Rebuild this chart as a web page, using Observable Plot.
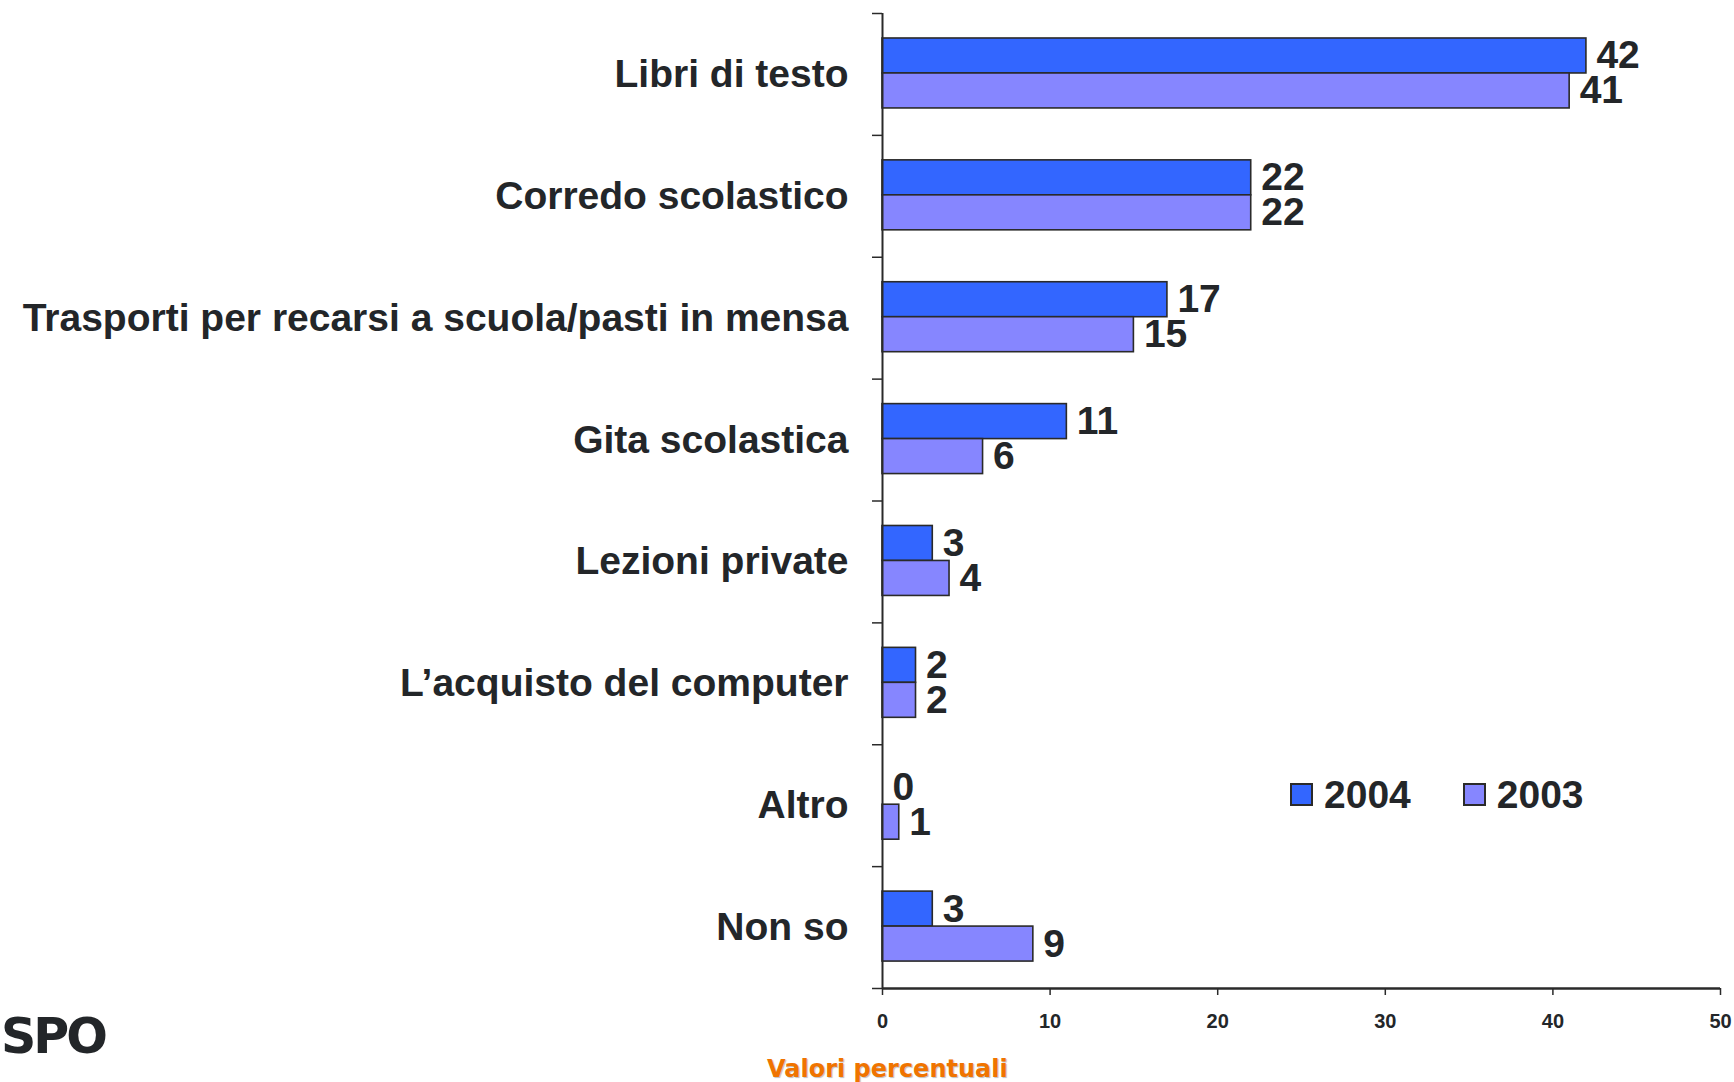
<!DOCTYPE html>
<html>
<head>
<meta charset="utf-8">
<script src="https://cdn.jsdelivr.net/npm/d3@7"></script>
<script src="https://cdn.jsdelivr.net/npm/@observablehq/plot@0.6"></script>
<style>
  html, body { margin: 0; padding: 0; background: #fff; }
  body { width: 1734px; height: 1082px; position: relative; overflow: hidden;
         font-family: "Liberation Sans", Arial, sans-serif; color: #232629; }
  #chart { position: absolute; left: 0; top: 0; }
  #legend { position: absolute; left: 1290px; top: 775px; display: flex; align-items: center;
            font-size: 39px; font-weight: bold; line-height: 1; }
  #legend .item { display: flex; align-items: center; margin-right: 52px; }
  #legend .sw { width: 19px; height: 19px; border: 2px solid #2a2a2a; margin-right: 11px; }
  #xlabel { position: absolute; left: 767px; top: 1057px; font-family: "DejaVu Sans", sans-serif;
            font-weight: bold; font-size: 24px; line-height: 1; color: #F07400;
            text-shadow: 1px 1px 1px rgba(0,0,0,0.25); white-space: nowrap; }
  #logo { position: absolute; left: 1px; top: 1012px; font-family: "DejaVu Sans", sans-serif;
          font-weight: bold; font-size: 49px; line-height: 1; color: #232629; letter-spacing: -3px; }
</style>
</head>
<body>
<div id="chart"></div>
<div id="legend"></div>
<div id="xlabel">Valori percentuali</div>
<div id="logo">SPO</div>
<script>
const categories = [
  "Libri di testo",
  "Corredo scolastico",
  "Trasporti per recarsi a scuola/pasti in mensa",
  "Gita scolastica",
  "Lezioni private",
  "L\u2019acquisto del computer",
  "Altro",
  "Non so"
];
const series = ["2004", "2003"];
const values2004 = [42, 22, 17, 11, 3, 2, 0, 3];
const values2003 = [41, 22, 15, 6, 4, 2, 1, 9];
const xTicks = [0, 10, 20, 30, 40, 50];
const colors = ["#3366FF", "#8686FF"];

// bar band layout inside each category slot (fractions of the slot)
const slot = {"2004": [0.205, 0.492], "2003": [0.492, 0.779]};

const rows = [];
categories.forEach((c, i) => {
  rows.push({category: c, idx: i, series: "2004", value: values2004[i]});
  rows.push({category: c, idx: i, series: "2003", value: values2003[i]});
});

const chart = Plot.plot({
  width: 1734,
  height: 1082,
  marginLeft: 882,
  marginRight: 14,
  marginTop: 13,
  marginBottom: 94,
  style: {fontFamily: "'Liberation Sans', Arial, sans-serif", fontWeight: "bold", color: "#232629", background: "#fff"},
  x: {domain: [0, 50]},
  y: {domain: [0, categories.length], reverse: true},
  color: {domain: series, range: colors},
  marks: [
    Plot.rectX(rows, {
      x1: () => 0,
      x2: "value",
      y1: d => d.idx + slot[d.series][0],
      y2: d => d.idx + slot[d.series][1],
      fill: "series",
      stroke: "#2a2a2a",
      strokeWidth: 1.6
    }),
    Plot.text(rows, {
      x: "value",
      y: d => d.idx + (slot[d.series][0] + slot[d.series][1]) / 2,
      text: d => String(d.value),
      dx: 10,
      textAnchor: "start",
      fontSize: 39,
      fontWeight: "bold",
      fill: "#232629"
    }),
    Plot.ruleX([0], {stroke: "#2a2a2a", strokeWidth: 2}),
    Plot.ruleY([categories.length], {stroke: "#2a2a2a", strokeWidth: 2.5}),
    Plot.axisY({
      ticks: d3.range(categories.length + 1),
      tickSize: 10,
      tickFormat: () => "",
      stroke: "#2a2a2a",
      strokeWidth: 1.5,
      label: null
    }),
    Plot.axisY({
      ticks: categories.map((c, i) => i + 0.5),
      tickSize: 0,
      tickPadding: 34,
      tickFormat: v => categories[Math.floor(v)],
      fontSize: 39,
      fontWeight: "bold",
      fill: "#232629",
      label: null
    }),
    Plot.axisX({
      ticks: xTicks,
      tickSize: 7,
      tickPadding: 18,
      tickFormat: d => String(d),
      fontSize: 20,
      fontWeight: "bold",
      stroke: "#2a2a2a",
      strokeWidth: 1.5,
      fill: "#232629",
      label: null
    })
  ]
});
document.getElementById("chart").appendChild(chart);

const legend = document.getElementById("legend");
series.forEach((s, i) => {
  const item = document.createElement("div");
  item.className = "item";
  const sw = document.createElement("div");
  sw.className = "sw";
  sw.style.background = colors[i];
  const label = document.createElement("span");
  label.textContent = s;
  item.appendChild(sw);
  item.appendChild(label);
  legend.appendChild(item);
});
</script>
</body>
</html>
